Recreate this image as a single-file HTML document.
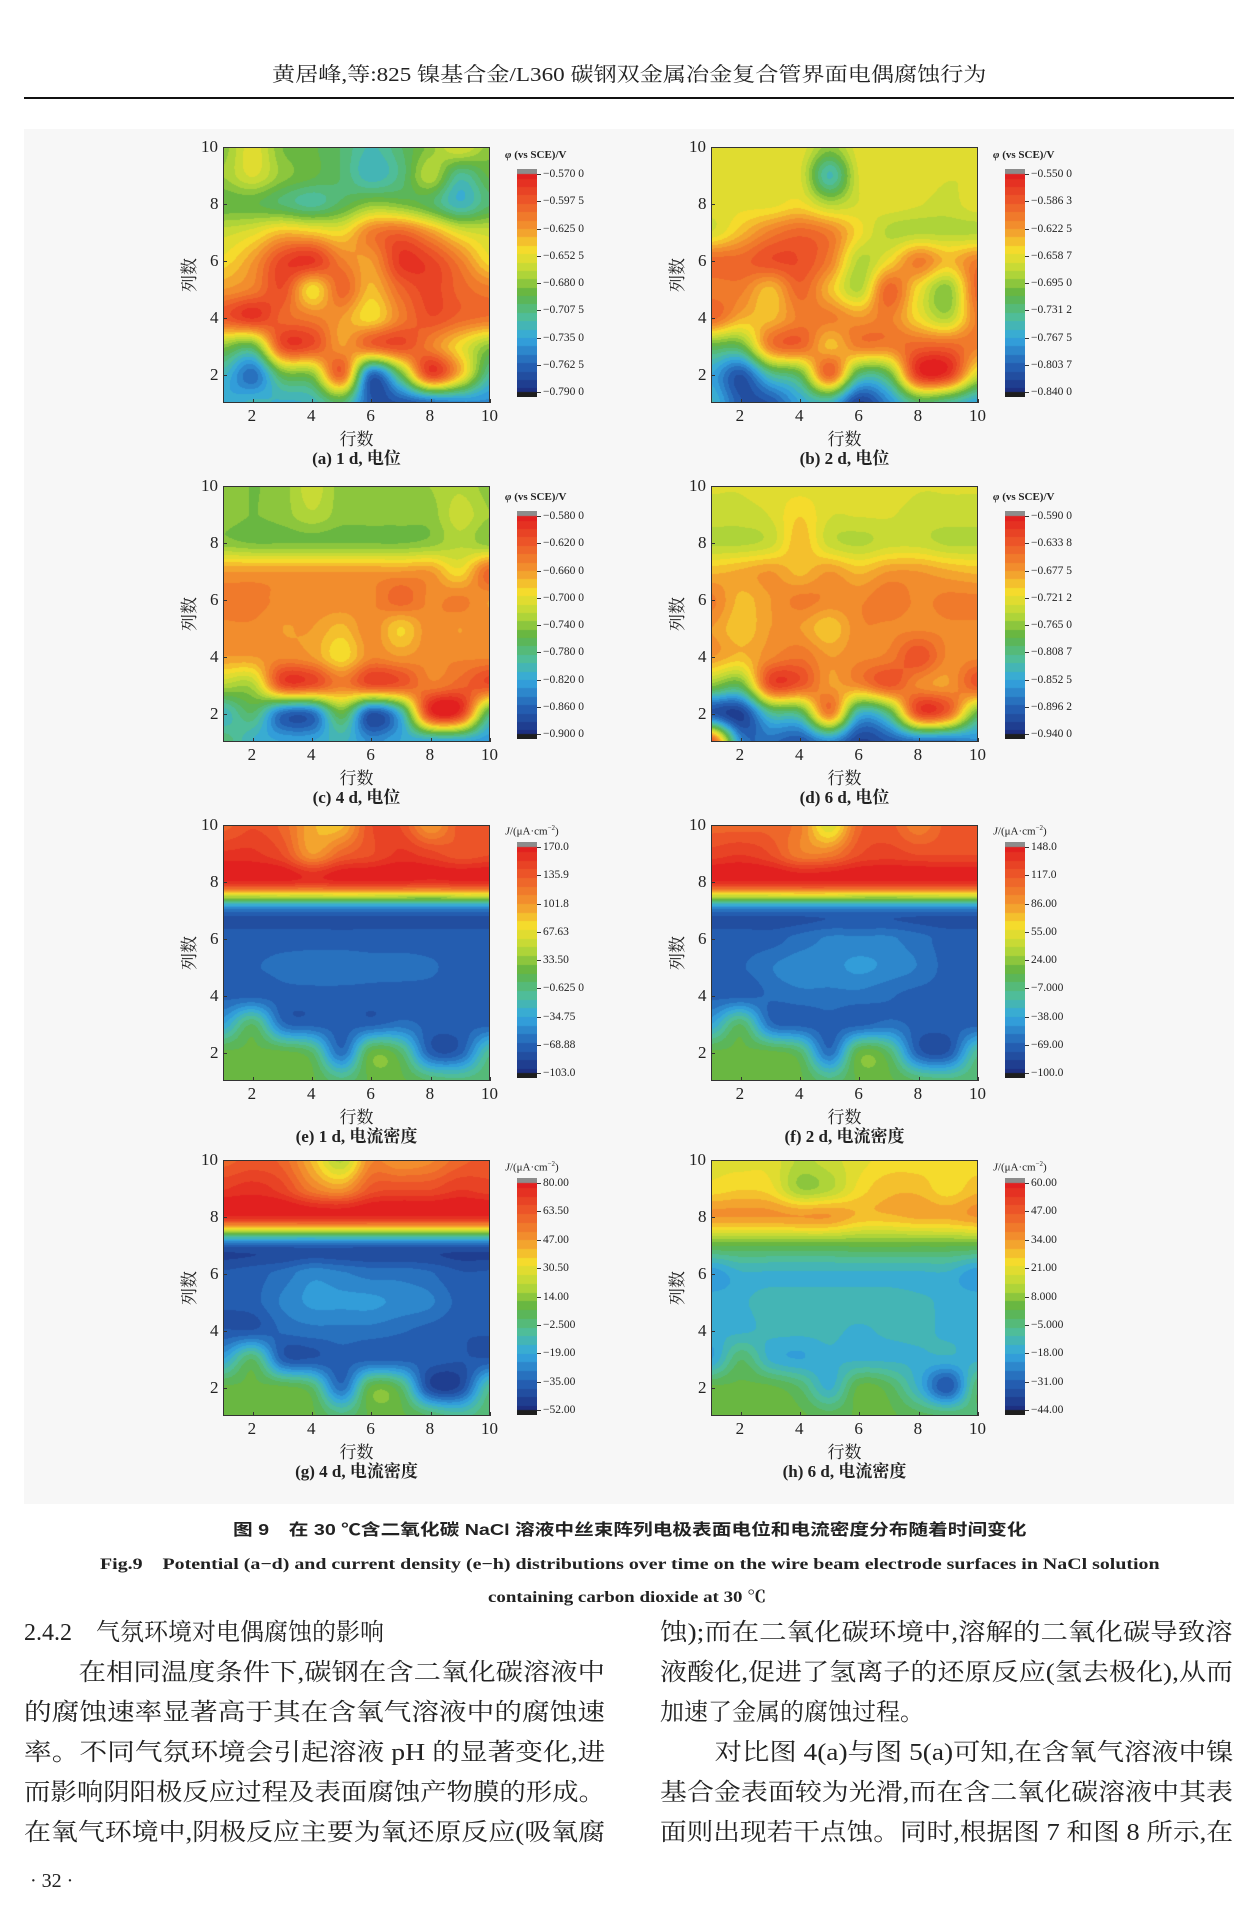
<!DOCTYPE html>
<html><head><meta charset="utf-8">
<style>
html,body{margin:0;padding:0;background:#fff;}
body{width:1254px;height:1912px;position:relative;overflow:hidden;font-family:"Liberation Serif","Noto Serif CJK SC",serif;color:#222;}
.abs{position:absolute;white-space:nowrap;}
.fig{position:absolute;left:24px;top:129px;width:1210px;height:1375px;background:#f7f7f7;}
canvas{position:absolute;display:block;}
.line{position:absolute;font-size:24px;line-height:28px;white-space:nowrap;transform-origin:0 0;font-family:"Liberation Serif","Noto Serif CJK SC",serif;}
</style></head><body>
<div class="abs" id="hdr" style="left:272px;top:62px;font-size:20px;line-height:26px;">黄居峰,等:825 镍基合金/L360 碳钢双金属冶金复合管界面电偶腐蚀行为</div>
<div class="abs" style="left:24px;top:97px;width:1210px;height:2px;background:#111;"></div>
<div class="fig"></div>
<div id="plots"></div>
<div class="abs" id="fc1" style="left:233px;top:1520px;font-size:16px;font-weight:bold;line-height:22px;font-family:'Liberation Sans','Noto Sans CJK SC',sans-serif;">图 9　在 30 ℃含二氧化碳 NaCl 溶液中丝束阵列电极表面电位和电流密度分布随着时间变化</div>
<div class="abs" id="fc2" style="left:100px;top:1554px;font-size:16px;font-weight:bold;line-height:22px;">Fig.9　Potential (a−d) and current density (e−h) distributions over time on the wire beam electrode surfaces in NaCl solution</div>
<div class="abs" id="fc3" style="left:488px;top:1587px;font-size:16px;font-weight:bold;line-height:22px;">containing carbon dioxide at 30 ℃</div>

<div class="line" data-w="0" style="left:24px;top:1619px;">2.4.2　气氛环境对电偶腐蚀的影响</div>
<div class="line" data-w="581" style="left:24px;top:1659px;">　　在相同温度条件下,碳钢在含二氧化碳溶液中</div>
<div class="line" data-w="581" style="left:24px;top:1699px;">的腐蚀速率显著高于其在含氧气溶液中的腐蚀速</div>
<div class="line" data-w="581" style="left:24px;top:1739px;">率。不同气氛环境会引起溶液 pH 的显著变化,进</div>
<div class="line" data-w="581" style="left:24px;top:1779px;">而影响阴阳极反应过程及表面腐蚀产物膜的形成。</div>
<div class="line" data-w="581" style="left:24px;top:1819px;">在氧气环境中,阴极反应主要为氧还原反应(吸氧腐</div>
<div class="line" data-w="573" style="left:660px;top:1619px;">蚀);而在二氧化碳环境中,溶解的二氧化碳导致溶</div>
<div class="line" data-w="573" style="left:660px;top:1659px;">液酸化,促进了氢离子的还原反应(氢去极化),从而</div>
<div class="line" data-w="0" style="left:660px;top:1699px;">加速了金属的腐蚀过程。</div>
<div class="line" data-w="573" style="left:660px;top:1739px;">　　对比图 4(a)与图 5(a)可知,在含氧气溶液中镍</div>
<div class="line" data-w="573" style="left:660px;top:1779px;">基合金表面较为光滑,而在含二氧化碳溶液中其表</div>
<div class="line" data-w="573" style="left:660px;top:1819px;">面则出现若干点蚀。同时,根据图 7 和图 8 所示,在</div>
<div class="abs" style="left:30px;top:1870px;font-size:20px;">· 32 ·</div>

<script>
const stops=[[0,[226,32,31]],[0.12,[236,86,40]],[0.25,[243,150,46]],[0.35,[245,222,44]],[0.45,[184,216,56]],[0.55,[95,179,66]],[0.65,[80,190,150]],[0.75,[52,168,224]],[0.87,[37,99,182]],[1,[29,47,128]]];
function cmap(t){t=Math.max(0,Math.min(1,t));for(let i=1;i<stops.length;i++){if(t<=stops[i][0]){const a=stops[i-1],b=stops[i];const f=(t-a[0])/(b[0]-a[0]);return [0,1,2].map(k=>a[1][k]+(b[1][k]-a[1][k])*f);}}return stops[stops.length-1][1];}
function cr(p0,p1,p2,p3,t){return 0.5*((2*p1)+(-p0+p2)*t+(2*p0-5*p1+4*p2-p3)*t*t+(-p0+3*p1-3*p2+p3)*t*t*t);}
function samp(g,x,y){const ix=Math.floor(x),iy=Math.floor(y);const fx=x-ix,fy=y-iy;const G=(r,c)=>g[Math.max(0,Math.min(9,r))][Math.max(0,Math.min(9,c))];
const rows=[];for(let r=-1;r<=2;r++){rows.push(cr(G(iy+r,ix-1),G(iy+r,ix),G(iy+r,ix+1),G(iy+r,ix+2),fx));}
return cr(rows[0],rows[1],rows[2],rows[3],fy);}
function P(s){return s.trim().split('\n').map(l=>l.trim().split(/\s+/).map(Number));}
const grids={
a:P(`.5 .38 .52 .55 .6 .68 .6 .5 .4 .5
.48 .4 .5 .55 .6 .7 .62 .45 .65 .55
.55 .55 .6 .65 .58 .5 .52 .58 .7 .6
.42 .38 .3 .32 .35 .2 .15 .25 .38 .42
.35 .25 .08 .05 .2 .25 .05 .08 .2 .35
.25 .2 .1 .35 .15 .3 .15 .08 .15 .2
.12 .05 .15 .2 .25 .35 .2 .1 .15 .18
.5 .55 .1 .1 .25 .15 .1 .2 .35 .5
.7 .85 .55 .5 .15 .85 .55 .08 .3 .65
.75 .7 .72 .7 .6 .9 .9 .85 .8 .8`),
b:P(`.38 .38 .38 .38 .5 .38 .38 .38 .38 .38
.38 .38 .38 .4 .68 .4 .38 .38 .4 .4
.38 .38 .38 .35 .45 .4 .38 .4 .42 .38
.4 .3 .2 .15 .2 .35 .45 .45 .45 .45
.15 .15 .1 .1 .2 .45 .35 .2 .3 .2
.2 .2 .3 .15 .3 .45 .15 .35 .5 .15
.15 .28 .3 .2 .2 .25 .2 .35 .45 .2
.55 .55 .2 .15 .3 .2 .2 .15 .15 .2
.75 .9 .65 .55 .15 .6 .55 .05 .05 .4
.7 .9 .9 .75 .7 .95 .8 .6 .65 .75`),
c:P(`.5 .52 .5 .42 .5 .5 .5 .48 .45 .5
.5 .52 .5 .45 .5 .5 .5 .5 .42 .48
.5 .52 .52 .52 .52 .52 .52 .5 .45 .5
.25 .25 .25 .25 .25 .25 .25 .25 .35 .15
.2 .2 .22 .22 .22 .22 .15 .22 .2 .25
.22 .22 .25 .25 .3 .22 .33 .22 .25 .22
.25 .25 .22 .25 .35 .22 .25 .22 .22 .22
.45 .45 .1 .1 .2 .1 .12 .2 .15 .1
.7 .6 .85 .85 .55 .9 .7 .05 .05 .6
.6 .72 .75 .75 .7 .8 .75 .75 .75 .78`),
d:P(`.4 .4 .38 .38 .38 .38 .38 .4 .4 .4
.42 .42 .4 .33 .4 .4 .4 .42 .42 .42
.45 .45 .42 .3 .42 .45 .42 .42 .45 .45
.3 .28 .25 .3 .25 .3 .25 .25 .28 .3
.2 .3 .25 .2 .22 .22 .18 .22 .2 .2
.25 .32 .25 .25 .32 .22 .22 .22 .22 .22
.25 .3 .22 .18 .25 .22 .2 .1 .22 .22
.5 .55 .1 .12 .25 .22 .12 .22 .25 .12
.9 .95 .65 .6 .2 .7 .6 .1 .15 .55
.1 .8 .85 .9 .8 .95 .9 .85 .85 .8`),
e:P(`.15 .1 .15 .28 .3 .1 .1 .25 .12 .12
.05 .05 .1 .25 .15 .1 .05 .08 .12 .1
.03 .03 .03 .05 .03 .03 .03 .05 .03 .03
.85 .85 .85 .85 .85 .85 .85 .85 .85 .85
.88 .88 .88 .88 .88 .88 .88 .88 .88 .88
.88 .87 .85 .84 .84 .85 .85 .86 .88 .88
.88 .88 .88 .88 .88 .88 .88 .88 .88 .88
.75 .6 .85 .88 .88 .88 .85 .88 .88 .88
.55 .55 .55 .6 .85 .55 .6 .88 .88 .65
.55 .55 .55 .55 .62 .55 .55 .6 .62 .6`),
f:P(`.15 .15 .15 .2 .4 .15 .12 .2 .12 .12
.08 .06 .1 .2 .2 .1 .08 .1 .1 .1
.03 .03 .03 .03 .03 .03 .03 .03 .03 .03
.85 .85 .85 .85 .85 .85 .85 .85 .85 .85
.88 .88 .88 .85 .82 .82 .82 .85 .88 .88
.88 .87 .83 .8 .8 .78 .8 .83 .88 .88
.88 .88 .86 .84 .84 .84 .86 .88 .88 .88
.75 .6 .85 .88 .88 .88 .85 .88 .88 .88
.55 .55 .55 .6 .85 .55 .6 .88 .9 .65
.55 .55 .55 .55 .62 .55 .55 .6 .62 .6`),
g:P(`.15 .12 .15 .3 .45 .22 .25 .22 .15 .12
.06 .04 .08 .2 .25 .12 .1 .1 .06 .08
.03 .03 .03 .03 .03 .03 .03 .03 .03 .03
.88 .88 .88 .88 .88 .88 .88 .88 .88 .88
.9 .88 .85 .8 .82 .84 .84 .86 .9 .9
.9 .88 .82 .78 .78 .78 .8 .82 .88 .9
.9 .9 .86 .84 .84 .84 .86 .88 .9 .9
.75 .6 .88 .9 .88 .88 .88 .88 .9 .9
.55 .55 .55 .6 .85 .55 .6 .93 .93 .65
.55 .55 .55 .55 .62 .55 .55 .6 .65 .6`),
h:P(`.38 .38 .38 .45 .42 .38 .35 .35 .35 .35
.35 .33 .35 .48 .45 .35 .3 .3 .35 .3
.25 .25 .25 .25 .25 .3 .3 .28 .28 .25
.55 .55 .55 .55 .55 .55 .55 .55 .55 .55
.78 .72 .72 .72 .72 .72 .72 .72 .72 .78
.72 .72 .68 .68 .68 .68 .68 .7 .72 .72
.72 .72 .7 .7 .7 .72 .7 .7 .72 .72
.75 .6 .72 .75 .72 .72 .72 .72 .72 .72
.55 .55 .55 .6 .72 .55 .58 .72 .9 .6
.55 .55 .55 .55 .58 .55 .55 .58 .6 .6`)};
const labels={
a:["−0.570 0","−0.597 5","−0.625 0","−0.652 5","−0.680 0","−0.707 5","−0.735 0","−0.762 5","−0.790 0"],
b:["−0.550 0","−0.586 3","−0.622 5","−0.658 7","−0.695 0","−0.731 2","−0.767 5","−0.803 7","−0.840 0"],
c:["−0.580 0","−0.620 0","−0.660 0","−0.700 0","−0.740 0","−0.780 0","−0.820 0","−0.860 0","−0.900 0"],
d:["−0.590 0","−0.633 8","−0.677 5","−0.721 2","−0.765 0","−0.808 7","−0.852 5","−0.896 2","−0.940 0"],
e:["170.0","135.9","101.8","67.63","33.50","−0.625 0","−34.75","−68.88","−103.0"],
f:["148.0","117.0","86.00","55.00","24.00","−7.000","−38.00","−69.00","−100.0"],
g:["80.00","63.50","47.00","30.50","14.00","−2.500","−19.00","−35.00","−52.00"],
h:["60.00","47.00","34.00","21.00","8.000","−5.000","−18.00","−31.00","−44.00"]};
const caps={a:"(a) 1 d, 电位",b:"(b) 2 d, 电位",c:"(c) 4 d, 电位",d:"(d) 6 d, 电位",e:"(e) 1 d, 电流密度",f:"(f) 2 d, 电流密度",g:"(g) 4 d, 电流密度",h:"(h) 6 d, 电流密度"};
const rowsY=[147,486,825,1160];
const cbY=[[169,397],[511,739],[842,1078],[1178,1415]];
const keys=[["a","b"],["c","d"],["e","f"],["g","h"]];
const root=document.getElementById('plots');
function el(tag,css,html){const e=document.createElement(tag);e.style.cssText=css;if(html!==undefined)e.innerHTML=html;root.appendChild(e);return e;}
for(let r=0;r<4;r++)for(let c=0;c<2;c++){
 const k=keys[r][c];const x0=c?711:223, y0=rowsY[r], W=267, H=256;
 const cv=el('canvas',`left:${x0}px;top:${y0}px;width:${W}px;height:${H}px;`);cv.width=W;cv.height=H;
 const ctx=cv.getContext('2d');const img=ctx.createImageData(W,H);const g=grids[k];
 for(let py=0;py<H;py++)for(let px=0;px<W;px++){
   const gx=px/(W-1)*9, gy=py/(H-1)*9;let v=samp(g,gx,gy);
   v=Math.round(v*26)/26;
   const col=cmap(v);const i=(py*W+px)*4;img.data[i]=col[0];img.data[i+1]=col[1];img.data[i+2]=col[2];img.data[i+3]=255;}
 ctx.putImageData(img,0,0);
 el('div',`position:absolute;left:${x0}px;top:${y0}px;width:${W}px;height:${H}px;border:1.5px solid #333;box-sizing:border-box;`);
 [2,4,6,8,10].forEach(v=>{const f=(v-1)/9;
   el('div',`position:absolute;left:${x0+f*W-(v==10?9:5)}px;top:${y0+H+4}px;font-size:17px;line-height:17px;`,String(v));
   el('div',`position:absolute;left:${x0+f*W}px;top:${y0+H-4}px;width:1px;height:4px;background:#333;`);
   el('div',`position:absolute;left:${x0-(v==10?22:13)}px;top:${y0+H-f*H-9}px;font-size:17px;line-height:17px;`,String(v));
   el('div',`position:absolute;left:${x0}px;top:${y0+H-f*H}px;width:4px;height:1px;background:#333;`);});
 el('div',`position:absolute;left:${x0+W/2-17}px;top:${y0+H+25}px;font-size:17px;line-height:20px;font-family:'Noto Serif CJK SC',serif;`,'行数');
 el('div',`position:absolute;left:${x0-52}px;top:${y0+H/2-10}px;font-size:17px;line-height:20px;transform:rotate(-90deg);font-family:'Noto Serif CJK SC',serif;`,'列数');
 el('div',`position:absolute;left:${x0+W/2}px;top:${y0+H+45}px;font-size:17px;font-weight:bold;line-height:22px;transform:translateX(-50%);white-space:nowrap;`,caps[k]);
 const cx=c?1005:517, cy0=cbY[r][0], cy1=cbY[r][1], ch=cy1-cy0;
 const cb=el('canvas',`left:${cx}px;top:${cy0}px;width:20px;height:${ch}px;`);cb.width=20;cb.height=ch;
 const bc=cb.getContext('2d');
 for(let y=0;y<ch;y++){let col;if(y<5)col=[140,140,140];else if(y>=ch-5)col=[30,30,30];else{const t=(y-5)/(ch-10);col=cmap(Math.round(t*26)/26);}bc.fillStyle=`rgb(${col.map(Math.round).join(',')})`;bc.fillRect(0,y,20,1);}
 el('div',`position:absolute;left:${cx-12}px;top:${cy0-20}px;font-size:11px;line-height:12px;white-space:nowrap;font-weight:${r<2?'bold':'normal'};`, r<2?'<i>φ</i> (vs SCE)/V':'<i>J</i>/(μA·cm<sup style="font-size:7px">−2</sup>)');
 labels[k].forEach((s,i)=>{const ly=cy0+5+i*(ch-10)/8;
   el('div',`position:absolute;left:${cx+20}px;top:${ly}px;width:4px;height:1px;background:#333;`);
   el('div',`position:absolute;left:${cx+26}px;top:${ly-6}px;font-size:11.5px;line-height:12px;white-space:nowrap;`,s);});
}
function fit(id,w){const e=document.getElementById(id);const cw=e.scrollWidth;e.style.transformOrigin='0 0';e.style.transform=`scaleX(${w/cw})`;}
fit('hdr',714);fit('fc1',793);fit('fc2',1060);fit('fc3',278);
document.querySelectorAll('.line').forEach(e=>{const w=+e.dataset.w;if(w){e.style.transform=`scaleX(${w/e.scrollWidth})`;}});
</script>
</body></html>
